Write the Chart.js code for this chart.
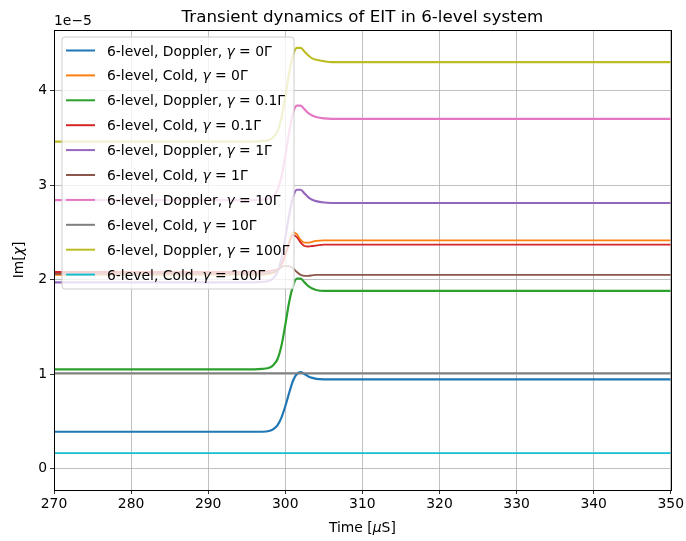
<!DOCTYPE html>
<html>
<head>
<meta charset="utf-8">
<script src="https://cdn.jsdelivr.net/npm/chart.js@4/dist/chart.umd.min.js"></script>
<style>
  html, body { margin: 0; padding: 0; background: #ffffff; }
  #wrap { width: 686px; height: 541px; position: relative; }
</style>
</head>
<body>
<div id="wrap"><canvas id="c" width="686" height="541"></canvas></div>
<script>
// Time axis samples (µs)
const timeUs = [270, 280, 290, 296, 297, 298, 298.5, 299, 299.5, 300, 300.5, 301, 301.5, 302, 302.5, 303, 303.5, 304, 305, 306, 310, 320, 330, 340, 350];

// Im[chi] in units of 1e-5
const dopplerG0   = [0.39,0.39,0.39,0.39,0.39,0.40,0.42,0.46,0.54,0.66,0.80,0.93,1.00,1.02,1.00,0.975,0.96,0.95,0.945,0.945,0.945,0.945,0.945,0.945,0.945];
const coldG0      = [2.05,2.05,2.05,2.05,2.05,2.06,2.07,2.09,2.15,2.26,2.40,2.50,2.48,2.42,2.39,2.39,2.40,2.41,2.415,2.415,2.415,2.415,2.415,2.415,2.415];
const dopplerG01  = [1.05,1.05,1.05,1.05,1.055,1.07,1.10,1.16,1.30,1.52,1.76,1.93,2.01,2.01,1.97,1.93,1.905,1.89,1.88,1.88,1.88,1.88,1.88,1.88,1.88];
const coldG01     = [2.08,2.08,2.08,2.08,2.08,2.09,2.10,2.11,2.16,2.26,2.38,2.47,2.45,2.39,2.355,2.35,2.355,2.36,2.37,2.37,2.37,2.37,2.37,2.37,2.37];
const dopplerG1   = [1.97,1.97,1.97,1.97,1.975,1.99,2.02,2.08,2.22,2.44,2.68,2.87,2.95,2.95,2.91,2.87,2.845,2.83,2.815,2.81,2.81,2.81,2.81,2.81,2.81];
const coldG1      = [2.06,2.06,2.06,2.06,2.06,2.07,2.08,2.10,2.13,2.145,2.14,2.12,2.08,2.05,2.04,2.04,2.045,2.05,2.05,2.05,2.05,2.05,2.05,2.05,2.05];
const dopplerG10  = [2.84,2.84,2.84,2.84,2.845,2.86,2.89,2.95,3.09,3.31,3.56,3.76,3.84,3.84,3.80,3.76,3.735,3.72,3.705,3.70,3.70,3.70,3.70,3.70,3.70];
const coldG10     = [1.01,1.01,1.01,1.01,1.01,1.01,1.01,1.01,1.01,1.01,1.01,1.01,1.01,1.01,1.01,1.01,1.01,1.01,1.01,1.01,1.01,1.01,1.01,1.01,1.01];
const dopplerG100 = [3.46,3.46,3.46,3.46,3.465,3.48,3.51,3.57,3.71,3.93,4.18,4.37,4.45,4.45,4.41,4.37,4.34,4.325,4.31,4.30,4.30,4.30,4.30,4.30,4.30];
const coldG100    = [0.165,0.165,0.165,0.165,0.165,0.165,0.165,0.165,0.165,0.165,0.165,0.165,0.165,0.165,0.165,0.165,0.165,0.165,0.165,0.165,0.165,0.165,0.165,0.165,0.165];

const seriesKinds  = ['Doppler','Cold','Doppler','Cold','Doppler','Cold','Doppler','Cold','Doppler','Cold'];
const seriesGammas = ['0Γ','0Γ','0.1Γ','0.1Γ','1Γ','1Γ','10Γ','10Γ','100Γ','100Γ'];
const seriesValues = [dopplerG0, coldG0, dopplerG01, coldG01, dopplerG1, coldG1, dopplerG10, coldG10, dopplerG100, coldG100];
const seriesColors = ['#1f77b4','#ff7f0e','#2ca02c','#d62728','#9467bd','#8c564b','#e377c2','#7f7f7f','#bcbd22','#17becf'];

const xTicks = [270, 280, 290, 300, 310, 320, 330, 340, 350];
const yTicks = [0, 1, 2, 3, 4];

const FONT = '"DejaVu Sans", "Liberation Sans", sans-serif';
const N = seriesValues.length;

const datasets = seriesValues.map((vals, i) => ({
  label: '6-level, ' + seriesKinds[i] + ', γ = ' + seriesGammas[i],
  data: vals.map((v, k) => ({ x: timeUs[k], y: v })),
  borderColor: seriesColors[i],
  backgroundColor: seriesColors[i],
  borderWidth: seriesKinds[i] === 'Doppler' ? 2.2 : 1.8,
  pointRadius: 0,
  fill: false,
  cubicInterpolationMode: 'monotone',
  order: N - 1 - i
}));

// Mixed-style text: array of [text, italic]
function drawRich(ctx, parts, x, y, size, align) {
  let total = 0;
  const widths = parts.map(([t, it]) => {
    ctx.font = (it ? 'italic ' : '') + size + 'px ' + FONT;
    const w = ctx.measureText(t).width; total += w; return w;
  });
  let cx = align === 'center' ? x - total / 2 : x;
  parts.forEach(([t, it], i) => {
    ctx.font = (it ? 'italic ' : '') + size + 'px ' + FONT;
    ctx.textAlign = 'left';
    ctx.fillText(t, cx, y);
    cx += widths[i];
  });
}

const decorations = {
  id: 'decorations',
  afterDatasetsDraw(chart) {
    // full frame around the axes
    const ctx = chart.ctx;
    const a = chart.chartArea;
    ctx.save();
    ctx.strokeStyle = '#000';
    ctx.lineWidth = 1;
    ctx.strokeRect(Math.round(a.left) + 0.5, Math.round(a.top) + 0.5, Math.round(a.right - a.left), Math.round(a.bottom - a.top));
    ctx.restore();
  },
  afterDraw(chart) {
    const ctx = chart.ctx;
    const a = chart.chartArea;
    ctx.save();
    ctx.fillStyle = '#000';
    ctx.textBaseline = 'alphabetic';

    // title
    ctx.font = '16.7px ' + FONT;
    ctx.textAlign = 'center';
    ctx.fillText('Transient dynamics of EIT in 6-level system', (a.left + a.right) / 2, 22);

    // offset text
    ctx.font = '13.9px ' + FONT;
    ctx.textAlign = 'left';
    ctx.fillText('1e\u22125', a.left, 25);

    // axis titles
    drawRich(ctx, [['Time [', false], ['μ', true], ['S]', false]], (a.left + a.right) / 2, 532, 13.9, 'center');
    ctx.save();
    ctx.translate(23, (a.top + a.bottom) / 2);
    ctx.rotate(-Math.PI / 2);
    drawRich(ctx, [['Im[', false], ['χ', true], [']', false]], 0, 0, 13.9, 'center');
    ctx.restore();

    // legend
    const bx = 62, by = 37, bw = 232, bh = 252, r = 3;
    ctx.beginPath();
    ctx.moveTo(bx + r, by);
    ctx.arcTo(bx + bw, by, bx + bw, by + bh, r);
    ctx.arcTo(bx + bw, by + bh, bx, by + bh, r);
    ctx.arcTo(bx, by + bh, bx, by, r);
    ctx.arcTo(bx, by, bx + bw, by, r);
    ctx.closePath();
    ctx.fillStyle = 'rgba(255,255,255,0.8)';
    ctx.fill();
    ctx.strokeStyle = '#cccccc';
    ctx.lineWidth = 1;
    ctx.stroke();

    for (let i = 0; i < N; i++) {
      const yc = 50.5 + i * 24.9;
      ctx.beginPath();
      ctx.moveTo(66, yc);
      ctx.lineTo(95, yc);
      ctx.strokeStyle = seriesColors[i];
      ctx.lineWidth = 2;
      ctx.stroke();
      ctx.fillStyle = '#000';
      drawRich(ctx, [['6-level, ' + seriesKinds[i] + ', ', false], ['γ', true], [' = ' + seriesGammas[i], false]], 107, yc + 5, 13.9, 'left');
    }
    ctx.restore();
  }
};

new Chart(document.getElementById('c'), {
  type: 'line',
  data: { datasets },
  options: {
    responsive: false,
    animation: false,
    events: [],
    layout: { padding: { left: 0, right: 15, top: 30, bottom: 0 } },
    plugins: { legend: { display: false }, tooltip: { enabled: false }, title: { display: false } },
    scales: {
      x: {
        type: 'linear',
        min: 270, max: 350,
        afterBuildTicks(s) { s.ticks = xTicks.map(v => ({ value: v })); },
        afterFit(s) { s.height = 51; },
        ticks: { color: '#000', font: { family: FONT, size: 13.9 }, padding: 2, maxRotation: 0, autoSkip: false },
        grid: { color: '#b0b0b0', lineWidth: 0.8, tickLength: 4, tickColor: '#000', tickWidth: 0.8 },
        border: { color: '#000', width: 1 }
      },
      y: {
        type: 'linear',
        min: -0.226, max: 4.64,
        afterBuildTicks(s) { s.ticks = yTicks.map(v => ({ value: v })); },
        afterFit(s) { s.width = 54; },
        ticks: { color: '#000', font: { family: FONT, size: 13.9 }, padding: 3, callback: v => String(v) },
        grid: { color: '#b0b0b0', lineWidth: 0.8, tickLength: 4, tickColor: '#000', tickWidth: 0.8 },
        border: { color: '#000', width: 1 }
      }
    }
  },
  plugins: [decorations]
});
</script>
</body>
</html>
